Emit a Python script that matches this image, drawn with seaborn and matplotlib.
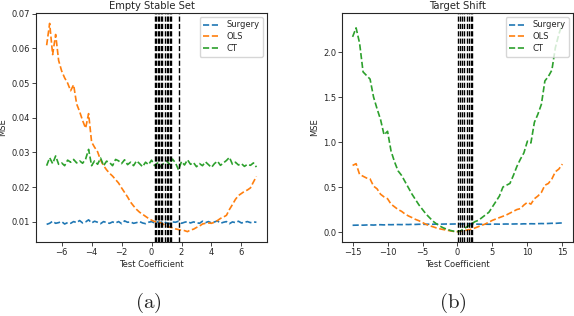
import numpy as np
import pandas as pd
import seaborn as sns
import matplotlib
matplotlib.use('Agg')
import matplotlib.pyplot as plt

sns.set_style('ticks')
plt.rcParams['font.family'] = ['DejaVu Sans']
plt.rcParams['mathtext.fontset'] = 'cm'

# ---- panel (a): Empty Stable Set ----
coef_a = [-7.0, -6.8, -6.6, -6.4, -6.2, -6.0, -5.8, -5.6, -5.4, -5.2,
          -5.0, -4.8, -4.6, -4.4, -4.2, -4.0, -3.8, -3.6, -3.4, -3.2,
          -3.0, -2.8, -2.6, -2.4, -2.2, -2.0, -1.8, -1.6, -1.4, -1.2,
          -1.0, -0.8, -0.6, -0.4, -0.2, 0.0, 0.2, 0.4, 0.6, 0.8,
          1.0, 1.2, 1.4, 1.6, 1.8, 2.0, 2.2, 2.4, 2.6, 2.8,
          3.0, 3.2, 3.4, 3.6, 3.8, 4.0, 4.2, 4.4, 4.6, 4.8,
          5.0, 5.2, 5.4, 5.6, 5.8, 6.0, 6.2, 6.4, 6.6, 6.8, 7.0]
surgery_a = [0.0093, 0.0096, 0.0102, 0.0096, 0.0098, 0.0101, 0.0094, 0.0098, 0.0096, 0.0101,
             0.0098, 0.0104, 0.0097, 0.0100, 0.0106, 0.0097, 0.0102, 0.0099, 0.0095, 0.0101,
             0.0098, 0.0096, 0.0100, 0.0097, 0.0101, 0.0095, 0.0103, 0.0099, 0.0100, 0.0096,
             0.0098, 0.0101, 0.0097, 0.0095, 0.0099, 0.0101, 0.0097, 0.0100, 0.0098, 0.0102,
             0.0097, 0.0095, 0.0100, 0.0099, 0.0102, 0.0096, 0.0099, 0.0101, 0.0097, 0.0100,
             0.0098, 0.0096, 0.0102, 0.0098, 0.0101, 0.0097, 0.0100, 0.0103, 0.0096, 0.0099,
             0.0101, 0.0095, 0.0100, 0.0098, 0.0102, 0.0097, 0.0099, 0.0101, 0.0098, 0.0100, 0.0099]
ols_a = [0.0609, 0.0672, 0.0582, 0.0640, 0.0565, 0.0535, 0.0515, 0.0500, 0.0478, 0.0495,
         0.0440, 0.0418, 0.0392, 0.0370, 0.0412, 0.0330, 0.0315, 0.0302, 0.0278, 0.0262,
         0.0250, 0.0240, 0.0232, 0.0222, 0.0212, 0.0198, 0.0185, 0.0172, 0.0157, 0.0146,
         0.0136, 0.0128, 0.0122, 0.0116, 0.0110, 0.0105, 0.0101, 0.0100, 0.0098, 0.0093,
         0.0088, 0.0085, 0.0083, 0.0080, 0.0078, 0.0076, 0.0075, 0.0072, 0.0077, 0.0079,
         0.0084, 0.0088, 0.0094, 0.0096, 0.0097, 0.0096, 0.0099, 0.0104, 0.0110, 0.0114,
         0.0119, 0.0136, 0.0150, 0.0165, 0.0176, 0.0182, 0.0188, 0.0192, 0.0198, 0.0215, 0.0231]
ct_a = [0.0262, 0.0285, 0.0268, 0.0290, 0.0266, 0.0270, 0.0262, 0.0278, 0.0272, 0.0280,
        0.0270, 0.0276, 0.0269, 0.0281, 0.0309, 0.0262, 0.0276, 0.0266, 0.0284, 0.0262,
        0.0275, 0.0271, 0.0262, 0.0280, 0.0276, 0.0268, 0.0279, 0.0265, 0.0272, 0.0262,
        0.0276, 0.0268, 0.0259, 0.0272, 0.0265, 0.0278, 0.0262, 0.0270, 0.0259, 0.0268,
        0.0276, 0.0266, 0.0281, 0.0270, 0.0250, 0.0274, 0.0264, 0.0279, 0.0266, 0.0271,
        0.0259, 0.0268, 0.0262, 0.0273, 0.0265, 0.0257, 0.0268, 0.0275, 0.0263, 0.0270,
        0.0277, 0.0286, 0.0266, 0.0272, 0.0264, 0.0268, 0.0260, 0.0266, 0.0263, 0.0270, 0.0258]
vlines_a = [0.22, 0.32, 0.42, 0.52, 0.62, 0.70, 0.90, 1.00, 1.12, 1.22, 1.30, 1.82]

# ---- panel (b): Target Shift ----
coef_b = [-15.0, -14.5, -14.0, -13.5, -13.0, -12.5, -12.0, -11.5, -11.0, -10.5,
          -10.0, -9.5, -9.0, -8.5, -8.0, -7.5, -7.0, -6.5, -6.0, -5.5,
          -5.0, -4.5, -4.0, -3.5, -3.0, -2.5, -2.0, -1.5, -1.0, -0.5,
          0.0, 0.5, 1.0, 1.5, 2.0, 2.5, 3.0, 3.5, 4.0, 4.5,
          5.0, 5.5, 6.0, 6.5, 7.0, 7.5, 8.0, 8.5, 9.0, 9.5,
          10.0, 10.5, 11.0, 11.5, 12.0, 12.5, 13.0, 13.5, 14.0, 14.5, 15.0]
surgery_b = [0.075, 0.076, 0.077, 0.076, 0.078, 0.079, 0.077, 0.080, 0.081, 0.079,
             0.082, 0.081, 0.082, 0.083, 0.082, 0.084, 0.083, 0.085, 0.084, 0.086,
             0.085, 0.086, 0.087, 0.086, 0.088, 0.087, 0.088, 0.089, 0.088, 0.089,
             0.090, 0.089, 0.090, 0.091, 0.090, 0.088, 0.087, 0.086, 0.087, 0.086,
             0.087, 0.088, 0.087, 0.088, 0.089, 0.088, 0.089, 0.090, 0.089, 0.091,
             0.090, 0.092, 0.091, 0.093, 0.094, 0.093, 0.095, 0.097, 0.096, 0.099, 0.101]
ols_b = [0.74, 0.76, 0.64, 0.62, 0.60, 0.59, 0.51, 0.48, 0.42, 0.39,
         0.37, 0.31, 0.28, 0.25, 0.23, 0.20, 0.178, 0.16, 0.14, 0.125,
         0.105, 0.085, 0.07, 0.058, 0.045, 0.035, 0.027, 0.02, 0.012, 0.006,
         0.004, 0.008, 0.015, 0.024, 0.03, 0.045, 0.06, 0.075, 0.09, 0.11,
         0.13, 0.145, 0.16, 0.175, 0.19, 0.21, 0.23, 0.25, 0.26, 0.30,
         0.33, 0.31, 0.37, 0.40, 0.44, 0.52, 0.54, 0.59, 0.67, 0.70, 0.755]
ct_b = [2.17, 2.27, 2.10, 1.78, 1.74, 1.70, 1.50, 1.37, 1.25, 1.08,
        1.12, 0.90, 0.78, 0.68, 0.63, 0.56, 0.49, 0.42, 0.36, 0.30,
        0.25, 0.20, 0.16, 0.12, 0.09, 0.065, 0.045, 0.03, 0.017, 0.008,
        0.005, 0.015, 0.04, 0.065, 0.09, 0.115, 0.13, 0.16, 0.19, 0.22,
        0.28, 0.34, 0.40, 0.50, 0.52, 0.54, 0.63, 0.73, 0.81, 0.88,
        1.01, 0.99, 1.22, 1.31, 1.42, 1.68, 1.73, 1.80, 2.05, 2.20, 2.32]
vlines_b = [0.1, 0.4, 0.7, 1.0, 1.3, 1.6, 1.9, 2.05]

methods = ['Surgery', 'OLS', 'CT']
colors = sns.color_palette('tab10')[:3]

fig = plt.figure(figsize=(5.74, 3.16), dpi=100)
ax_a = fig.add_axes([0.063, 0.234, 0.402, 0.725])
ax_b = fig.add_axes([0.596, 0.234, 0.402, 0.725])

panels = [
    (ax_a, coef_a, [surgery_a, ols_a, ct_a], vlines_a, 'Empty Stable Set', [-6, -4, -2, 0, 2, 4, 6]),
    (ax_b, coef_b, [surgery_b, ols_b, ct_b], vlines_b, 'Target Shift', [-15, -10, -5, 0, 5, 10, 15]),
]

for ax, coef, series, vlines, title, xt in panels:
    for name, vals, c in zip(methods, series, colors):
        df = pd.DataFrame({'coef': coef, 'mse': vals})
        sns.lineplot(data=df, x='coef', y='mse', ax=ax, color=c, label=name,
                     linestyle='--', linewidth=1.2)
    for v in vlines:
        ax.axvline(v, color='black', linestyle='--', linewidth=1.0)
    ax.set_title(title, fontsize=7.2, pad=2.5)
    ax.set_xlabel('Test Coefficient', fontsize=6, labelpad=2)
    ax.set_ylabel('MSE', fontsize=6, labelpad=3)
    ax.set_xticks(xt)
    ax.tick_params(labelsize=6, length=2.8, width=0.6, pad=1.5)
    for s in ax.spines.values():
        s.set_linewidth(0.8)
    ax.legend(loc='upper right', fontsize=6, handlelength=2.0, borderpad=0.4,
              labelspacing=0.35, framealpha=0.8)

fig.text(0.258, 0.04, r'$\mathrm{(a)}$', fontsize=15, ha='center', va='center')
fig.text(0.789, 0.04, r'$\mathrm{(b)}$', fontsize=15, ha='center', va='center')

fig.savefig('out.png', dpi=100)
